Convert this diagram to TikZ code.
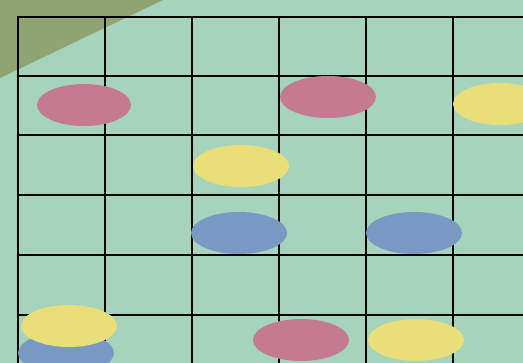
\documentclass[tikz,border=0pt]{standalone}
\definecolor{bg}{HTML}{A5D3BB}
\definecolor{olive}{HTML}{8FA373}
\definecolor{pinkc}{HTML}{C47A90}
\definecolor{yell}{HTML}{E8DF78}
\definecolor{bluec}{HTML}{7799C3}
\begin{document}
\begin{tikzpicture}[x=1pt,y=-1pt,
  gridline/.style={line width=2.7pt,black},
  dot/.style={draw=none}]
\useasboundingbox (0,0) rectangle (523,363);
\clip (0,0) rectangle (523,363);
\fill[bg] (0,0) rectangle (523,363);
\fill[olive] (0,0) -- (163,0) -- (0,78) -- cycle;
\foreach \x in {18,105,192,279,366,453} \draw[gridline] (\x,17) -- (\x,370);
\foreach \y in {17,76,135,195,255,315} \draw[gridline] (16.65,\y) -- (530,\y);
\fill[pinkc] (84,105) ellipse [x radius=47, y radius=21];
\fill[pinkc] (328,97) ellipse [x radius=48, y radius=21];
\fill[yell] (500,104) ellipse [x radius=47, y radius=21];
\fill[yell] (241,166) ellipse [x radius=48, y radius=21];
\fill[bluec] (239,233) ellipse [x radius=48, y radius=21];
\fill[bluec] (414,233) ellipse [x radius=48, y radius=21];
\fill[bluec] (66,353) ellipse [x radius=48, y radius=21];
\fill[yell] (69,326) ellipse [x radius=48, y radius=21];
\fill[pinkc] (301,340) ellipse [x radius=48, y radius=21];
\fill[yell] (416,340) ellipse [x radius=48, y radius=21];
\end{tikzpicture}
\end{document}
